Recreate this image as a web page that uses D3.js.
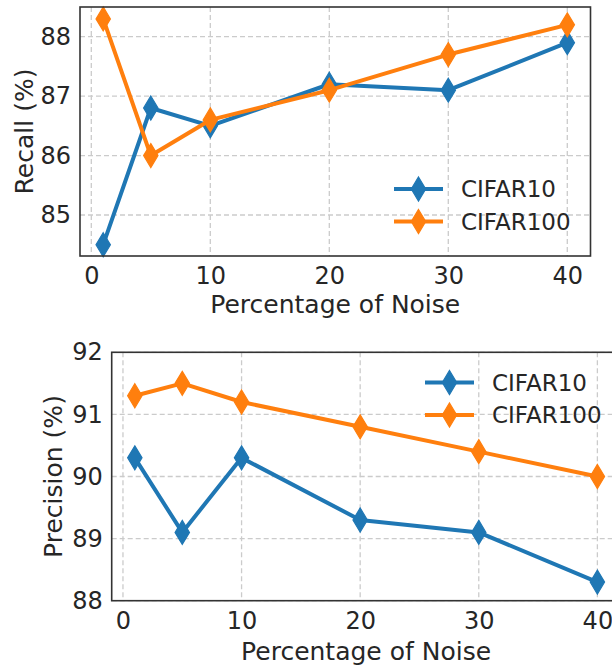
<!DOCTYPE html>
<html>
<head>
<meta charset="utf-8">
<script src="https://cdn.jsdelivr.net/npm/d3@7"></script>
<style>
  body { margin: 0; background: #fff; }
  text { font-family: "DejaVu Sans", sans-serif; fill: #262626; }
</style>
</head>
<body>
<div id="chart"></div>
<script>
// data
var noise = [1, 5, 10, 20, 30, 40];
var seriesNames = ['CIFAR10', 'CIFAR100'];
var recallC10  = [84.5, 86.8, 86.5, 87.2, 87.1, 87.9];
var recallC100 = [88.3, 86.0, 86.6, 87.1, 87.7, 88.2];
var precC10    = [90.3, 89.1, 90.3, 89.3, 89.1, 88.3];
var precC100   = [91.3, 91.5, 91.2, 90.8, 90.4, 90.0];
var xTicks      = [0, 10, 20, 30, 40];
var recallTicks = [85, 86, 87, 88];
var precTicks   = [88, 89, 90, 91, 92];

var colors = ['#1f77b4', '#ff7f0e'];

var svg = d3.select('#chart')
    .append('svg')
    .attr('width', 612)
    .attr('height', 666);

// thin diamond like matplotlib 'd'
function diamond(h){
    var w = h * 0.6;
    return 'M0,' + (-h) + 'L' + w + ',0L0,' + h + 'L' + (-w) + ',0Z';
}

function drawPanel(p){
    var x = d3.scaleLinear().domain([-0.95, 41.95]).range([p.left, p.right]);
    var y = d3.scaleLinear().domain(p.yDomain).range([p.bottom, p.top]);
    var g = svg.append('g');

    // grid
    g.selectAll('.gx').data(xTicks).enter().append('line')
        .attr('x1', function(d){ return x(d); })
        .attr('x2', function(d){ return x(d); })
        .attr('y1', p.top).attr('y2', p.bottom)
        .attr('stroke', '#cbcbcb').attr('stroke-width', 1.3)
        .attr('stroke-dasharray', '5,3');
    g.selectAll('.gy').data(p.yTicks).enter().append('line')
        .attr('x1', p.left).attr('x2', p.right)
        .attr('y1', function(d){ return y(d); })
        .attr('y2', function(d){ return y(d); })
        .attr('stroke', '#cbcbcb').attr('stroke-width', 1.3)
        .attr('stroke-dasharray', '5,3');

    // axes
    var xa = g.append('g')
        .attr('transform', 'translate(0,' + p.bottom + ')')
        .call(d3.axisBottom(x).tickValues(xTicks).tickSize(0).tickPadding(11));
    var ya = g.append('g')
        .attr('transform', 'translate(' + p.left + ',0)')
        .call(d3.axisLeft(y).tickValues(p.yTicks).tickSize(0).tickPadding(9)
            .tickFormat(d3.format('d')));
    [xa, ya].forEach(function(a){
        a.select('.domain').remove();
        a.selectAll('text')
            .style('font-family', '"DejaVu Sans", sans-serif')
            .style('font-size', '24px')
            .attr('fill', '#262626');
    });

    // lines + markers
    var line = d3.line()
        .x(function(d){ return x(d[0]); })
        .y(function(d){ return y(d[1]); });
    p.series.forEach(function(vals, i){
        var pts = noise.map(function(n, j){ return [n, vals[j]]; });
        g.append('path')
            .attr('d', line(pts))
            .attr('fill', 'none')
            .attr('stroke', colors[i])
            .attr('stroke-width', 4)
            .attr('stroke-linejoin', 'round');
        g.selectAll('.m' + i).data(pts).enter().append('path')
            .attr('transform', function(d){ return 'translate(' + x(d[0]) + ',' + y(d[1]) + ')'; })
            .attr('d', diamond(12))
            .attr('fill', colors[i])
            .attr('stroke', colors[i])
            .attr('stroke-width', 1.2);
    });

    // frame
    g.append('rect')
        .attr('x', p.left).attr('y', p.top)
        .attr('width', p.right - p.left).attr('height', p.bottom - p.top)
        .attr('fill', 'none').attr('stroke', '#333').attr('stroke-width', 1.6);

    // labels
    g.append('text')
        .attr('x', (p.left + p.right) / 2).attr('y', p.xLabelY)
        .attr('text-anchor', 'middle')
        .style('font-size', '25px')
        .text('Percentage of Noise');
    g.append('text')
        .attr('transform', 'translate(' + p.yLabelX + ',' + (p.top + p.bottom) / 2 + ') rotate(-90)')
        .attr('text-anchor', 'middle')
        .style('font-size', '25px')
        .text(p.yLabel);

    // legend
    seriesNames.forEach(function(name, i){
        var ly = p.legendY + i * 32.5;
        g.append('line')
            .attr('x1', p.legendX).attr('x2', p.legendX + 49)
            .attr('y1', ly).attr('y2', ly)
            .attr('stroke', colors[i]).attr('stroke-width', 4);
        g.append('path')
            .attr('transform', 'translate(' + (p.legendX + 24.5) + ',' + ly + ')')
            .attr('d', diamond(12))
            .attr('fill', colors[i]).attr('stroke', colors[i]).attr('stroke-width', 1.2);
        g.append('text')
            .attr('x', p.legendX + 67).attr('y', ly + 8.4)
            .style('font-size', '23px')
            .text(name);
    });
}

drawPanel({
    left: 80, right: 590.5, top: 7, bottom: 256,
    yDomain: [84.31, 88.5], yTicks: recallTicks,
    series: [recallC10, recallC100],
    xLabelY: 313, yLabelX: 33, yLabel: 'Recall (%)',
    legendX: 394, legendY: 189
});

drawPanel({
    left: 111.7, right: 620.5, top: 352.3, bottom: 600.7,
    yDomain: [88, 92], yTicks: precTicks,
    series: [precC10, precC100],
    xLabelY: 660, yLabelX: 62, yLabel: 'Precision (%)',
    legendX: 425, legendY: 382.5
});
</script>
</body>
</html>
